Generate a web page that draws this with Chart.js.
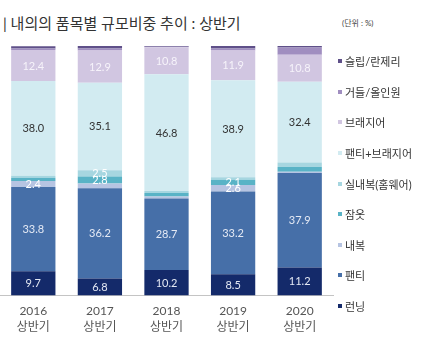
<!DOCTYPE html>
<html lang="ko">
<head>
<meta charset="UTF-8">
<title>내의의 품목별 규모비중 추이</title>
<script src="https://cdn.jsdelivr.net/npm/chart.js"></script>
<style>
    body { margin: 0; background: #fff; font-family: Lato, 'Noto Sans CJK KR', sans-serif; }
    #wrap { position: relative; width: 433px; height: 364px; overflow: hidden; }
    #title { position: absolute; left: 3px; top: 12px; font-size: 15px; color: #333; white-space: nowrap; }
    #unit { position: absolute; left: 342px; top: 17px; font-size: 8px; color: #444; white-space: nowrap; }
    #chart { position: absolute; left: 0; top: 0; }
    #legend { position: absolute; left: 338px; top: 46px; }
    #legend div { height: 30.6px; display: flex; align-items: center; font-size: 11px; color: #333; white-space: nowrap; }
    #legend span { display: inline-block; width: 4px; height: 4px; margin-right: 3px; }
</style>
</head>
<body>
<div id="wrap">
    <div id="title">| 내의의 품목별 규모비중 추이 : 상반기</div>
    <div id="unit">(단위 : %)</div>
    <canvas id="chart" width="433" height="364"></canvas>
    <div id="legend"></div>
</div>
<script>
const years = ['2016', '2017', '2018', '2019', '2020'];

// 아래에서 위로 쌓이는 순서
const running   = [9.7, 6.8, 10.2, 8.5, 11.2];
const panty     = [33.8, 36.2, 28.7, 33.2, 37.9];
const naebok    = [2.4, 1.9, 0.8, 2.6, 0.5];
const jamot     = [1.3, 2.8, 1.4, 2.1, 1.9];
const homewear  = [0.8, 2.5, 0.8, 1.0, 1.8];
const pantyBra  = [38.0, 35.1, 46.8, 38.9, 32.4];
const bra       = [12.4, 12.9, 10.8, 11.9, 10.8];
const girdle    = [0.6, 0.8, 0.2, 0.8, 2.9];
const slip      = [0.9, 1.0, 0.3, 1.0, 0.6];

const series = [
    { label: '런닝', data: running, color: '#142a6a', text: '#e4e9f4' },
    { label: '팬티', data: panty, color: '#466fa8', text: '#e4e9f4' },
    { label: '내복', data: naebok, color: '#b6c4e2', text: '#ffffff' },
    { label: '잠옷', data: jamot, color: '#59b3c6', text: '#ffffff' },
    { label: '실내복(홈웨어)', data: homewear, color: '#a6d6e0', text: '#ffffff' },
    { label: '팬티+브래지어', data: pantyBra, color: '#d2ebf1', text: '#333333' },
    { label: '브래지어', data: bra, color: '#d1c6e1', text: '#f6f3fa' },
    { label: '거들/올인원', data: girdle, color: '#a08ec0', text: null },
    { label: '슬립/란제리', data: slip, color: '#5f5089', text: null }
];

// 막대 위 수치 표시
const barLabels = {
    id: 'barLabels',
    afterDatasetsDraw(chart) {
        const ctx = chart.ctx;
        ctx.save();
        ctx.font = '11px Lato, "Noto Sans CJK KR"';
        ctx.textAlign = 'center';
        ctx.textBaseline = 'middle';
        chart.data.datasets.forEach((ds, i) => {
            if (!ds.labelColor) return;
            chart.getDatasetMeta(i).data.forEach((bar, j) => {
                const v = ds.data[j];
                if (v < 2.05) return;
                const p = bar.getProps(['x', 'y', 'base'], true);
                ctx.fillStyle = ds.labelColor;
                ctx.fillText(v.toFixed(1), p.x, (p.y + p.base) / 2 + 0.5);
            });
        });
        ctx.restore();
    }
};

const chart = new Chart(document.getElementById('chart').getContext('2d'), {
    type: 'bar',
    data: {
        labels: years.map(y => [y, '상반기']),
        datasets: series.map(s => ({
            label: s.label,
            data: s.data,
            backgroundColor: s.color,
            labelColor: s.text,
            borderWidth: 0,
            barPercentage: 1,
            categoryPercentage: 0.665
        }))
    },
    options: {
        responsive: false,
        animation: false,
        layout: { padding: { top: 46, left: -3, right: 100, bottom: 21 } },
        plugins: {
            legend: { display: false },
            tooltip: { enabled: false }
        },
        scales: {
            x: {
                stacked: true,
                grid: { display: false, drawTicks: false },
                border: { display: true, color: '#c4c4c4', width: 1 },
                ticks: {
                    color: '#555',
                    padding: 7,
                    font: { family: 'Lato, "Noto Sans CJK KR"', size: 12, lineHeight: 1.4 }
                }
            },
            y: {
                stacked: true,
                display: false,
                min: 0,
                max: 100
            }
        }
    },
    plugins: [barLabels]
});

// 범례 (위에서부터 슬립/란제리)
const legendBox = document.getElementById('legend');
series.slice().reverse().forEach(s => {
    const row = document.createElement('div');
    const box = document.createElement('span');
    box.style.background = s.color;
    row.appendChild(box);
    row.appendChild(document.createTextNode(s.label));
    legendBox.appendChild(row);
});
</script>
</body>
</html>
